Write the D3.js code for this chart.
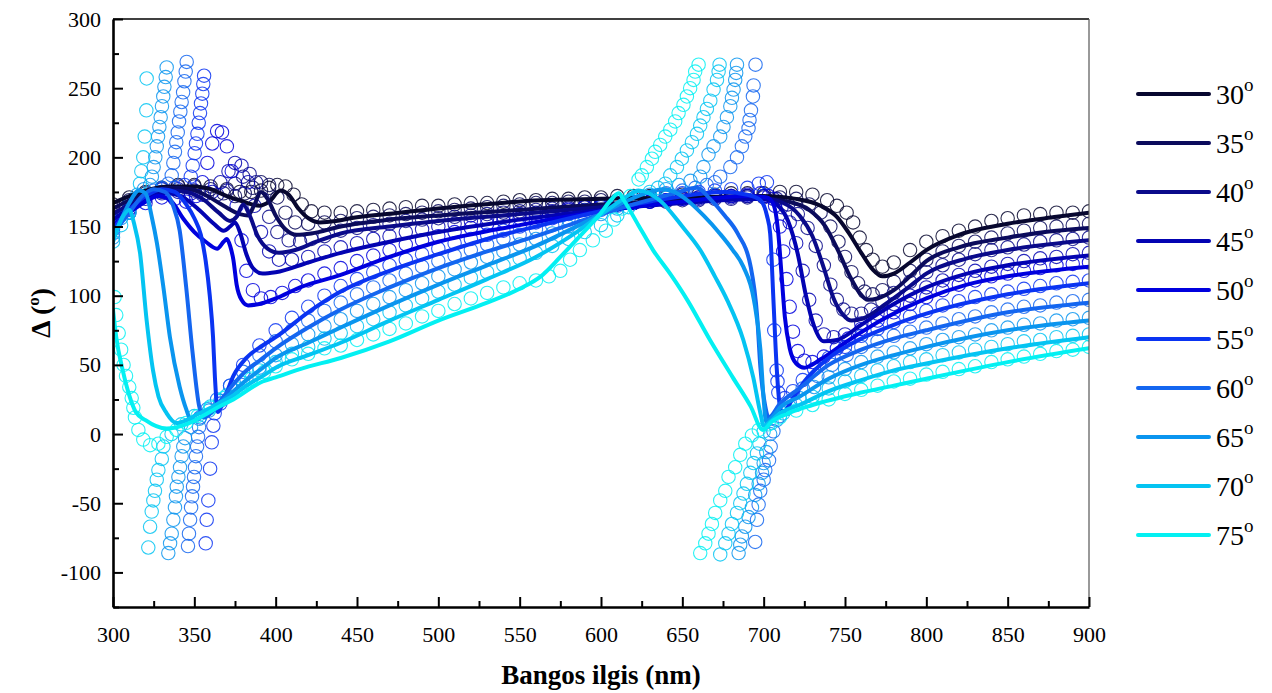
<!DOCTYPE html>
<html><head><meta charset="utf-8">
<script src="https://cdn.jsdelivr.net/npm/d3@7"></script>
<style>
body{margin:0;background:#fff}
text{font-family:"Liberation Serif","Times New Roman",serif;fill:#000}
</style></head>
<body><svg id="c" width="1272" height="693"></svg>
<script>
const angles=["30","35","40","45","50","55","60","65","70","75"];
const colors=["#07072f","#0b0b5c","#0a0a8a","#0303b2","#0000de","#0a34f2","#1466f0","#0a95ef","#04c4f2","#03f0f2"];
const xTicks=[300,350,400,450,500,550,600,650,700,750,800,850,900];
const yTicks=[-100,-50,0,50,100,150,200,250,300];
const xMinor=[325,375,425,475,525,575,625,675,725,775,825,875];
const yMinor=[-125,-75,-25,25,75,125,175,225,275];

// model lines
const line30=[[300,167],[310,172],[320,176],[335,179],[350,179],[360,177],[370,172],[380,168],[390,165],[396,168],[403,176],[408,173],[414,163],[420,156],[427,153],[437,154],[446,156],[476,160],[518,165],[563,169],[600,170],[650,171],[700,172],[720,170],[735,165],[745,157],[752,146],[760,131],[767,119],[773,114],[780,116],[790,124],[800,133],[820,144],[850,152],[880,157],[900,160]];
const line35=[[300,163],[310,169],[320,174],[335,178],[348,177],[358,172],[368,165],[378,159],[383,158],[387,166],[391,175],[395,170],[400,158],[406,148],[413,144],[422,145],[440,150],[470,155],[500,158],[550,162],[600,166],[650,169],[700,170],[715,168],[728,162],[738,150],[746,132],[753,114],[759,102],[764,97],[770,98],[780,104],[790,114],[800,125],[820,135],[850,142],[880,147],[900,149]];
const line40=[[300,159],[310,166],[320,172],[335,176],[345,175],[355,170],[365,160],[372,154],[376,157],[380,166],[384,158],[389,143],[395,134],[402,131],[412,133],[425,139],[440,145],[470,150],[500,154],[550,159],[600,164],[650,168],[700,170],[712,167],[722,158],[730,143],[737,120],[743,98],[749,86],[754,82],[762,84],[775,94],[790,107],[800,116],[825,127],[850,133],[900,140]];
const line45=[[300,155],[310,163],[320,170],[333,174],[343,171],[353,162],[362,152],[368,147],[372,150],[375,153],[378,146],[382,130],[386,120],[392,116],[400,117],[420,124],[440,131],[470,139],[500,146],[550,155],[600,162],[650,167],[700,170],[708,166],[715,154],[721,130],[726,100],[731,78],[737,67],[745,68],[760,79],[780,94],[800,106],[825,116],[850,122],[900,129]];
const line50=[[300,151],[310,160],[320,168],[328,172],[336,168],[343,156],[350,146],[357,139],[364,134],[368,139],[370,141],[372,136],[374,126],[376,108],[379,97],[383,93],[390,94],[400,98],[415,106],[440,115],[470,128],[500,139],[550,151],[600,161],[650,168],[690,172],[702,171],[706,166],[709,145],[711,115],[713,85],[716,62],[720,51],[725,48],[735,54],[750,66],[775,84],[800,98],[825,108],[850,114],[900,121]];
const line55=[[300,148],[310,162],[320,172],[330,177],[338,175],[345,166],[350,156],[354,144],[357,125],[359.5,100],[361.5,70],[362.7,40],[364.5,16],[368,24],[374,42],[382,55],[392,64],[400,70],[420,88],[440,103],[470,118],[500,130],[530,141],[560,150],[600,161],[640,170],[676,175],[690,173],[698,169],[702,158],[704,145],[706,97],[708,48],[710,20],[712,15],[716,22],[725,38],[740,55],[760,69],[780,79],[800,87],[850,101],[900,109]];
const line60=[[300,145],[310,160],[318,172],[325,177],[332,175],[337,165],[341,147],[345,106],[349,58],[353,20],[356,12],[360,15],[366,24],[374,36],[382,46],[390,53],[400,62],[420,77],[440,90],[470,106],[500,120],[530,132],[560,143],[590,155],[620,166],[645,174],[659,178],[667,170],[676,158],[684,145],[692,121],[696,85],[698,48],[701,20],[703,12],[710,22],[722,33],[740,50],[760,61],[780,69],[800,75],[850,88],[900,95]];
const line65=[[300,142],[305,155],[310,167],[316,176],[320,174],[324,156],[327,138],[331,106],[335,70],[341,34],[345,18],[348,10],[354,12],[360,17],[368,25],[374,31],[382,39],[390,46],[400,55],[420,66],[440,77],[470,93],[500,108],[530,122],[560,136],[590,153],[615,168],[630,175],[638,177],[645,175],[653,169],[663,158],[673,145],[681,133],[687.5,121],[694,97],[698,61],[700,25],[701.5,9],[705,12],[710,19],[722,27],[740,40],[760,50],[780,57],[800,63],[850,75],[900,82]];
const line70=[[300,139],[306,157],[310,162],[313,152],[316.6,131],[320.7,82],[324.6,46],[328,27],[333,15],[339,8],[345,10],[350,13],[360,19],[368,24],[374,28],[382,35],[392,42],[400,48],[420,57],[440,66],[470,82],[500,97],[530,112],[560,128],[585,146],[605,163],[615,171],[623,176],[636,169],[650,150],[661,133],[670,114],[677.5,97],[687.5,68],[693.6,41],[698,15],[700,6],[705,10],[710,15],[722,21],[740,31],[760,39],[780,46],[800,51],[850,62],[900,70]];
const line75=[[300,90],[302,70],[306,46],[310,28],[314,16],[320,10],[333,4],[345,7],[355,13],[364,19],[374,25],[392,38],[400,41],[415,47],[440,55],[470,67],[500,82],[530,95],[550,105],[563,114],[575,128],[587,143],[600,160],[606,169],[611,174],[614,169],[623,151],[632,133],[643,115],[653,97],[667,68],[681,41],[692,20],[699.5,3],[705,9],[715,15],[730,21],[760,30],[780,35],[800,40],[850,52],[900,62]];

// measured points
const circ30=[[300,166],[310,171],[320,175],[330,178],[340,180],[350,180],[360,179],[370,177],[378,175],[385,175],[391,176],[396,178],[401,180],[406,179],[411,173],[416,166],[422,161],[430,160],[440,160],[450,161],[460,162],[470,163],[480,164],[490,165],[500,165],[510,166],[520,167],[530,167],[540,168],[550,169],[560,169],[570,170],[580,170],[590,171],[600,171],[610,172],[620,172],[630,172],[640,173],[650,173],[660,173],[670,173],[680,174],[690,174],[700,174],[710,175],[720,175],[730,173],[739,169],[745,165],[751,160],[755,153],[759,142],[763,133],[767,126],[773,121],[780,124],[790,133],[800,139],[810,143],[820,147],[830,150],[840,154],[850,156],[860,158],[870,159],[880,160],[890,160],[900,161]];
const circ35=[[300,163],[310,169],[320,174],[330,177],[340,179],[350,179],[360,177],[368,174],[375,172],[381,174],[386,178],[391,182],[396,180],[401,171],[406,160],[412,153],[420,152],[430,153],[440,154],[450,156],[460,157],[470,158],[480,159],[490,160],[500,161],[510,162],[520,163],[530,164],[540,165],[550,166],[560,167],[570,167],[580,168],[590,168],[600,169],[610,169],[620,170],[630,170],[640,171],[650,171],[660,171],[670,172],[680,172],[690,172],[700,172],[710,171],[720,170],[728,166],[735,160],[741,150],[746,139],[750,128],[754,117],[758,109],[762,103],[767,101],[773,104],[780,110],[790,118],[800,126],[810,132],[820,136],[830,139],[840,142],[850,145],[860,147],[870,149],[880,150],[890,151],[900,152]];
const circ40=[[300,159],[310,166],[320,172],[330,175],[340,177],[350,176],[358,174],[364,173],[370,176],[375,181],[380,186],[384,188],[388,182],[392,170],[396,157],[401,146],[408,140],[415,139],[422,141],[430,143],[440,147],[450,149],[460,151],[470,152],[480,154],[490,155],[500,156],[510,157],[520,158],[530,159],[540,160],[550,161],[560,162],[570,163],[580,164],[590,165],[600,166],[610,167],[620,167],[630,168],[640,168],[650,169],[660,169],[670,170],[680,170],[690,171],[700,171],[708,170],[715,166],[721,159],[727,149],[732,136],[737,122],[741,108],[745,97],[749,90],[754,87],[760,87],[766,90],[773,96],[780,102],[790,110],[800,117],[810,122],[820,126],[830,130],[840,133],[850,135],[860,137],[870,139],[880,140],[890,141],[900,142]];
const circ45=[[300,155],[310,163],[320,170],[330,174],[340,175],[348,174],[355,173],[361,175],[366,182],[371,190],[375,196],[379,194],[383,182],[387,165],[391,146],[396,132],[402,126],[410,126],[420,128],[430,132],[440,135],[450,138],[460,141],[470,143],[480,146],[490,148],[500,150],[510,152],[520,154],[530,156],[540,157],[550,159],[560,160],[570,161],[580,163],[590,164],[600,165],[610,166],[620,167],[630,168],[640,169],[650,170],[660,170],[670,171],[680,171],[690,172],[700,172],[706,170],[711,164],[716,153],[720,138],[724,118],[728,97],[732,82],[737,72],[743,70],[750,72],[760,80],[770,87],[780,94],[790,100],[800,106],[810,111],[820,115],[830,118],[840,121],[850,123],[860,125],[870,127],[880,128],[890,130],[900,131]];
const circ50=[[300,151],[310,160],[320,167],[330,171],[338,170],[345,168],[351,172],[355,182],[358,196],[361,210],[364,219],[367,218],[370,208],[373,190],[376,165],[379,140],[382,118],[386,104],[391,98],[397,99],[404,102],[412,107],[420,111],[430,116],[440,120],[450,125],[460,129],[470,133],[480,137],[490,140],[500,143],[510,146],[520,149],[530,152],[540,154],[550,156],[560,158],[570,160],[580,162],[590,164],[600,165],[610,166],[620,167],[630,168],[640,169],[650,170],[660,171],[670,172],[680,172],[690,173],[698,174],[703,172],[707,165],[710,150],[712,132],[714,112],[716,92],[718,74],[721,60],[725,53],[730,52],[737,56],[745,62],[752,69],[760,76],[770,82],[780,88],[790,94],[800,99],[810,104],[820,108],[830,111],[840,114],[850,116],[860,118],[870,120],[880,122],[890,123],[900,124]];
const circ55=[[300,148],[310,162],[320,172],[330,177],[338,178],[344,180],[347.8,186],[349,194],[350.2,203],[351,210],[351.9,217],[352.7,225],[353.5,232],[354.1,239],[354.9,246],[355.5,253],[356,259],[357,-79],[357.6,-62],[358.6,-48],[359.7,-25],[360.7,-6],[361.7,6],[362.5,15],[366,22],[372,35],[380,50],[390,64],[400,75],[410,84],[420,92],[430,100],[440,107],[450,112],[460,117],[470,122],[480,126],[490,130],[500,134],[510,138],[520,141],[530,144],[540,147],[550,150],[560,153],[570,156],[580,159],[590,162],[600,164],[610,166],[620,168],[630,170],[640,172],[650,174],[660,175],[670,176],[680,177],[690,178],[697,181],[702,182],[706,126],[706.5,75],[708,46],[708.5,38],[709,30],[713,26],[718,31],[724,39],[731,47],[740,55],[750,63],[760,71],[770,76],[780,81],[790,85],[800,89],[810,93],[820,96],[830,99],[840,101],[850,103],[860,105],[870,107],[880,109],[890,110],[900,111]];
const circ60=[[300,145],[310,160],[318,171],[325,176],[330,178],[334,181],[336.1,187],[337.1,196],[338.1,204],[338.9,211],[339.8,218],[340.6,226],[341.4,233],[342.2,240],[343.1,247],[343.9,255],[344.7,262],[345.3,269],[346.1,-81],[346.7,-72],[347.4,-62],[348,-53],[348.6,-45],[349.2,-38],[349.8,-31],[350.4,-24],[351,-16],[351.7,-9],[352.3,-2],[352.9,5],[353.5,12],[358,18],[364,25],[372,35],[380,45],[390,57],[400,67],[410,75],[420,82],[430,89],[440,95],[450,101],[460,106],[470,111],[480,116],[490,121],[500,125],[510,129],[520,133],[530,137],[540,141],[550,144],[560,148],[570,151],[580,155],[590,158],[600,162],[610,165],[620,168],[630,171],[640,174],[650,176],[658,178],[665,180],[670,182],[673.3,186],[679.5,193],[683.6,200],[686.6,208],[688.7,215],[690.7,221],[691.3,227],[692.2,234],[693.4,244],[693.8,252],[695,267],[694.8,-78],[695.9,-62],[696.9,-51],[697.9,-41],[700,-33],[701,-26],[703.3,-19],[704.3,-9],[706,2],[710,13],[716,23],[724,33],[733,42],[742,50],[751,57],[760,63],[770,67],[780,71],[790,74],[800,77],[810,80],[820,83],[830,85],[840,88],[850,90],[860,92],[870,93],[880,95],[890,96],[900,97]];
const circ65=[[300,142],[305,156],[310,166],[315,173],[319,177],[322.8,180],[323.9,186],[325,193],[326,200],[326.9,208],[327.7,215],[328.5,222],[329.3,229],[330.1,237],[330.9,244],[331.6,251],[332.4,258],[333,265],[334,-86],[335.1,-79],[336.1,-72],[337.1,-62],[338.1,-53],[338.7,-45],[339.2,-38],[340.2,-31],[341.2,-24],[342.2,-16],[343.2,-9],[344.3,-3],[348,5],[353,11],[359,17],[366,24],[374,32],[382,40],[390,48],[400,57],[410,65],[420,72],[430,78],[440,83],[450,89],[460,94],[470,99],[480,104],[490,109],[500,114],[510,119],[520,124],[530,128],[540,132],[550,137],[560,141],[570,145],[580,150],[590,155],[600,159],[610,163],[620,168],[630,173],[640,177],[648,180],[655,183],[661,186],[663,193],[666.1,202],[669.2,208],[673.3,215],[675.3,222],[677.4,229],[679.5,237],[680.5,243],[681.5,249],[682.5,256],[683.1,261],[683.6,267],[684.6,-86],[685.6,-80],[686.6,-74],[688.7,-67],[690.7,-60],[692.8,-53],[694.8,-44],[696.9,-36],[699,-28],[700,-21],[701.6,-13],[704,0],[708,10],[714,18],[722,26],[731,34],[740,41],[750,47],[760,52],[770,56],[780,59],[790,62],[800,65],[810,68],[820,70],[830,72],[840,75],[850,77],[860,79],[870,80],[880,82],[890,83],[900,84]];
const circ70=[[300,139],[305,151],[310,160],[314,170],[316.6,181],[317.4,190],[318.6,200],[319.5,215],[320.5,234],[320.7,257],[321.7,-82],[322.8,-67],[323.8,-56],[324.8,-48],[325.8,-41],[326.9,-33],[327.9,-26],[330,-18],[331,-9],[336,0],[342,7],[350,13],[360,20],[370,28],[380,37],[390,46],[400,52],[410,58],[420,63],[430,69],[440,73],[450,78],[460,83],[470,88],[480,93],[490,98],[500,103],[510,108],[520,113],[530,117],[540,122],[550,127],[560,131],[570,136],[580,141],[590,146],[600,151],[610,158],[617,164],[623,170],[630,175],[635,178],[639.5,181],[642.6,187],[646.7,193],[649.7,199],[652.8,205],[655.9,211],[659,217],[661,223],[663,229],[665.1,235],[667.2,241],[669.2,249],[671.3,256],[672.3,262],[672.9,267],[673.3,-87],[676.4,-79],[678.4,-72],[680.5,-65],[683.6,-57],[685.6,-50],[687.6,-43],[689.7,-36],[691.8,-28],[693.8,-21],[695.9,-14],[697.4,-7],[700,2],[705,8],[712,15],[720,21],[730,27],[740,33],[750,38],[760,42],[770,46],[780,49],[790,52],[800,54],[810,57],[820,59],[830,61],[840,63],[850,65],[860,67],[870,68],[880,70],[890,71],[900,72]];
const circ75=[[301,99],[302,86],[303.5,73],[305,61],[306.5,50],[308,42],[310,34],[311.5,26],[312.5,19],[313.5,12],[315.6,3],[318.6,-4],[322.8,-8],[327.9,-7],[333,-2],[339,3],[345,8],[352,13],[360,19],[368,26],[376,33],[385,40],[393,45],[400,49],[410,54],[420,58],[430,62],[440,64],[450,68],[460,72],[470,76],[480,80],[490,85],[500,89],[510,94],[520,98],[530,102],[540,106],[550,109],[560,111],[568,114],[575,118],[581,126],[587,133],[595,140],[603,147],[608,155],[613,163],[618,172],[623.1,184],[625.1,187],[628.2,193],[631.3,199],[633.3,204],[636.4,209],[639.5,215],[642.6,220],[645.6,226],[647.7,232],[650.7,238],[652.8,244],[654.8,250],[656.9,256],[657.9,262],[660,267],[661,-86],[664.1,-79],[666.1,-72],[668.2,-65],[670.2,-57],[673.3,-48],[676.4,-41],[678.4,-31],[682.5,-24],[685.6,-15],[688.7,-7],[692.8,-1],[697,3],[703,7],[710,12],[720,17],[730,21],[740,25],[750,29],[760,32],[770,35],[780,38],[790,40],[800,43],[810,45],[820,47],[830,49],[840,52],[850,54],[860,56],[870,58],[880,60],[890,61],[900,63]];

const lines=[line30,line35,line40,line45,line50,line55,line60,line65,line70,line75];
const circs=[circ30,circ35,circ40,circ45,circ50,circ55,circ60,circ65,circ70,circ75];

const svg=d3.select("#c");
const x=d3.scaleLinear().domain([300,900]).range([113,1089]);
const y=d3.scaleLinear().domain([-125,300]).range([607,19]);
const SERIF='"Liberation Serif","Times New Roman",serif';

svg.append("defs").append("clipPath").attr("id","clip").append("rect")
  .attr("x",x(300)).attr("y",y(300)).attr("width",x(900)-x(300)).attr("height",y(-125)-y(300));
const plot=svg.append("g").attr("clip-path","url(#clip)");

circs.forEach((pts,i)=>{
  plot.append("g").selectAll("circle").data(pts).join("circle")
    .attr("cx",d=>x(d[0])).attr("cy",d=>y(d[1])).attr("r",6.7)
    .attr("fill","none").attr("stroke",colors[i]).attr("stroke-width",1.1).attr("stroke-opacity",0.85);
});
const lg=d3.line().x(d=>x(d[0])).y(d=>y(d[1])).curve(d3.curveMonotoneX);
lines.forEach((l,i)=>{
  plot.append("path").attr("d",lg(l)).attr("fill","none").attr("stroke",colors[i])
    .attr("stroke-width",4).attr("stroke-linejoin","round").attr("stroke-linecap","round");
});

// frame top/right
svg.append("line").attr("x1",x(300)).attr("x2",x(900)).attr("y1",y(300)).attr("y2",y(300)).attr("stroke","#000").attr("stroke-width",1.5);
svg.append("line").attr("x1",x(900)).attr("x2",x(900)).attr("y1",y(300)).attr("y2",y(-125)).attr("stroke","#555").attr("stroke-width",1.2);

// axes
const fmt=d=>String(d);
const gx=svg.append("g").attr("transform",`translate(0,${y(-125)})`)
  .call(d3.axisBottom(x).tickValues(xTicks).tickSize(-10).tickSizeOuter(0).tickPadding(19).tickFormat(fmt));
const gxm=svg.append("g").attr("transform",`translate(0,${y(-125)})`)
  .call(d3.axisBottom(x).tickValues(xMinor).tickSize(-6).tickSizeOuter(0).tickFormat(""));
gxm.select(".domain").remove();
const gy=svg.append("g").attr("transform",`translate(${x(300)},0)`)
  .call(d3.axisLeft(y).tickValues(yTicks).tickSize(-10).tickSizeOuter(0).tickPadding(12).tickFormat(fmt));
const gym=svg.append("g").attr("transform",`translate(${x(300)},0)`)
  .call(d3.axisLeft(y).tickValues(yMinor).tickSize(-6).tickSizeOuter(0).tickFormat(""));
gym.select(".domain").remove();
[gx,gy,gxm,gym].forEach(g=>g.attr("font-family",null).attr("font-size",null));
[gx,gy].forEach(g=>{g.select(".domain").attr("stroke","#000").attr("stroke-width",2.6);});
[gx,gy,gxm,gym].forEach(g=>{g.selectAll(".tick line").attr("stroke","#000").attr("stroke-width",2);});
[gx,gy].forEach(g=>{g.selectAll(".tick text").style("font-family",SERIF).style("font-size","22px").attr("fill","#000");});

// axis titles
svg.append("text").attr("x",601).attr("y",684).attr("text-anchor","middle")
  .style("font-family",SERIF).attr("font-size",27).attr("font-weight","bold").text("Bangos ilgis (nm)");
const yt=svg.append("text").attr("transform","translate(50,313) rotate(-90)").attr("text-anchor","middle")
  .style("font-family",SERIF).attr("font-size",28).attr("font-weight","bold");
yt.append("tspan").text("Δ (");
yt.append("tspan").attr("font-size",17).attr("dy",-11).text("o");
yt.append("tspan").attr("dy",11).text(")");

// legend
const leg=svg.append("g");
angles.forEach((a,i)=>{
  const yy=94+i*49;
  leg.append("line").attr("x1",1138).attr("x2",1209).attr("y1",yy).attr("y2",yy)
    .attr("stroke",colors[i]).attr("stroke-width",4).attr("stroke-linecap","round");
  const t=leg.append("text").attr("x",1216).attr("y",yy+10).style("font-family",SERIF).attr("font-size",28);
  t.append("tspan").text(a);
  t.append("tspan").attr("font-size",19).attr("dy",-13).text("o");
});
</script></body></html>
